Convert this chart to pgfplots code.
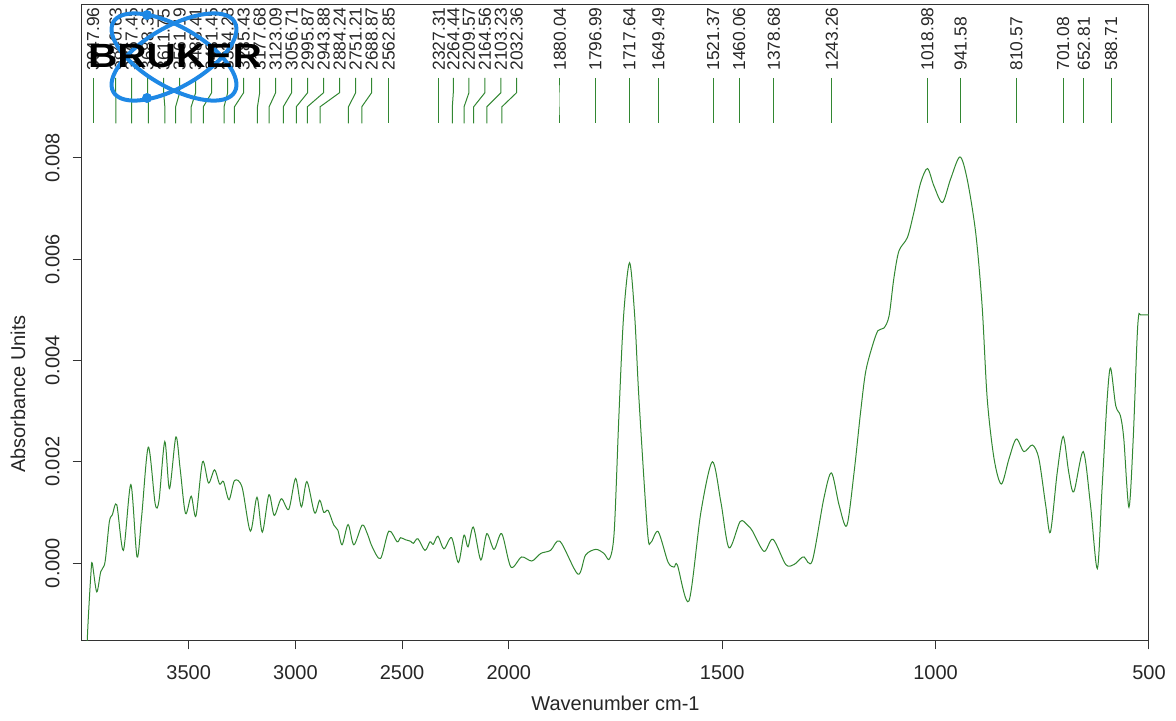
\documentclass[border=0pt]{standalone}
\usepackage{pgfplots}
\pgfplotsset{compat=1.18}
\usepackage{fontspec}
\setmainfont{Liberation Sans}
\definecolor{specgreen}{RGB}{50,135,50}
\definecolor{brukerblue}{RGB}{30,136,229}
\newcommand\ticfont{\fontsize{10}{12}\selectfont}
\newcommand\peakfont{\fontsize{8.7}{10}\selectfont}
\begin{document}
\begin{tikzpicture}
\useasboundingbox (-41pt,-40pt) rectangle (547pt,320pt);
\begin{axis}[
  at={(0pt,0pt)}, anchor=south west,
  scale only axis, width=533.5pt, height=317.5pt,
  xmin=500, xmax=4000, ymin=-0.00152, ymax=0.01102,
  x dir=reverse,
  x coord trafo/.code={\pgfmathparse{#1>2000 ? 2000+(#1-2000)/2 : #1}},
  x coord inv trafo/.code={\pgfmathparse{#1>2000 ? 2000+(#1-2000)*2 : #1}},
  axis line style={black!80, line width=0.5pt},
  tick style={black!80, line width=0.5pt},
  tick align=outside, major tick length=4.65pt,
  xtick pos=left, ytick pos=left,
  xtick={500,1000,1500,2000,2500,3000,3500},
  xticklabels={500,1000,1500,2000,2500,3000,3500},
  ytick={0,0.002,0.004,0.006,0.008},
  yticklabels={0.000,0.002,0.004,0.006,0.008},
  scaled y ticks=false, scaled x ticks=false,
  xticklabel shift=4.5pt, yticklabel shift=3pt,
  xticklabel style={font=\ticfont, text=black!85},
  yticklabel style={font=\ticfont, text=black!85, rotate=90, anchor=south},
  clip=true,
]
\addplot[specgreen, line width=0.5pt, smooth, tension=0.5] coordinates {
(3990,-0.0030) (3975,-0.00149) (3968,-0.0009) (3958,-0.0002) (3952,0.0000)
(3931,-0.00057) (3912,-0.00017) (3892,0.00002) (3872,0.00081) (3858,0.00095)
(3837,0.00115) (3806,0.00025) (3771,0.00155) (3742,0.00012) (3720,0.00094)
(3689,0.00229) (3657,0.00117) (3639,0.00124) (3612,0.00240) (3590,0.00147)
(3560,0.00249) (3540,0.00186) (3515,0.00098) (3488,0.00132) (3466,0.00093)
(3435,0.00200) (3407,0.00158) (3379,0.00184) (3355,0.00156) (3337,0.00161)
(3311,0.00125) (3285,0.00163) (3250,0.00150) (3211,0.00063) (3180,0.00130)
(3155,0.00061) (3124,0.00135) (3099,0.00094) (3066,0.00127) (3031,0.00106)
(2999,0.00167) (2972,0.00111) (2946,0.00161) (2910,0.00099) (2886,0.00124)
(2867,0.00100) (2847,0.00104) (2820,0.00075) (2801,0.00065) (2781,0.00036)
(2753,0.00076) (2726,0.00036) (2687,0.00075) (2663,0.00058) (2640,0.00032)
(2601,0.00009) (2562,0.00063) (2523,0.00042) (2507,0.00050) (2484,0.00046)
(2460,0.00043) (2447,0.00039) (2426,0.00048) (2393,0.00025) (2369,0.00042)
(2354,0.00037) (2332,0.00053) (2304,0.00028) (2268,0.00050) (2236,0.00001)
(2210,0.00055) (2191,0.00032) (2166,0.00071) (2131,0.00006) (2103,0.00058)
(2069,0.00027) (2033,0.00058) (1995,-0.00008) (1970,0.00012) (1946,0.00004)
(1925,0.00019) (1902,0.00025) (1880,0.00043) (1838,-0.00022) (1820,0.00016)
(1796,0.00027) (1777,0.00019) (1764,0.00008) (1753,0.00062) (1742,0.00291)
(1731,0.00488) (1717,0.00593) (1705,0.00488) (1695,0.00324) (1675,0.00062)
(1667,0.00041) (1650,0.00062) (1627,0.00002) (1613,-0.00008) (1605,-0.00004)
(1578,-0.00075) (1550,0.00100) (1523,0.00200) (1503,0.00120) (1484,0.00030)
(1458,0.00082) (1441,0.00075) (1429,0.00063) (1402,0.00023) (1381,0.00047)
(1351,-0.00003) (1332,-0.00003) (1316,0.00009) (1308,0.00012) (1289,0.00004)
(1262,0.00127) (1244,0.00178) (1226,0.00114) (1208,0.00074) (1191,0.00179)
(1176,0.00296) (1164,0.00377) (1148,0.00429) (1135,0.00459) (1121,0.00464)
(1109,0.00488) (1098,0.00561) (1086,0.00616) (1066,0.00643) (1051,0.00692)
(1035,0.00751) (1019,0.00779) (1004,0.00745) (984,0.00712) (965,0.00758)
(943,0.00802) (926,0.00758) (906,0.00652) (891,0.00508) (879,0.00324)
(863,0.00206) (846,0.00156) (828,0.00206) (811,0.00245) (793,0.00220)
(773,0.00233) (758,0.00206) (742,0.00114) (731,0.00061) (715,0.00179)
(701,0.00250) (688,0.00179) (676,0.00141) (654,0.00220) (637,0.00114)
(621,-0.00011) (610,0.00147) (598,0.00324) (590,0.00385) (578,0.00311)
(567,0.00291) (559,0.00245) (547,0.00110) (537,0.00245) (528,0.00442)
(524,0.00490) (520,0.00490) (500,0.00490)
};
\foreach \p/\l/\t in {
3947.96/3947.96/3947.96, 3840.63/3842.1/3840.63, 3767.45/3767.1/3767.45,
3688.35/3692.1/3688.35, 3611.75/3617.2/3611.75, 3561.19/3542.2/3561.19,
3488.41/3467.2/3488.41, 3431.45/3392.2/3431.45, 3334.28/3317.2/3334.28,
3285.43/3242.3/3285.43, 3177.68/3167.3/3177.68, 3123.09/3092.3/3123.09,
3056.71/3017.3/3056.71, 2995.87/2942.3/2995.87, 2943.88/2867.4/2943.88,
2884.24/2792.4/2884.24, 2751.21/2717.4/2751.21, 2688.87/2642.4/2688.87,
2562.85/2562.85/2562.85, 2327.31/2327.31/2327.31, 2264.44/2260.0/2264.44,
2209.57/2186.6/2209.57, 2164.56/2111.6/2164.56, 2103.23/2036.6/2103.23,
2032.36/1981.5/2032.36, 1880.04/1880.04/1880.04, 1796.99/1796.99/1796.99,
1717.64/1717.64/1717.64, 1649.49/1649.49/1649.49, 1521.37/1521.37/1521.37,
1460.06/1460.06/1460.06, 1378.68/1378.68/1378.68, 1243.26/1243.26/1243.26,
1018.98/1018.98/1018.98, 941.58/941.58/941.58, 810.57/810.57/810.57,
701.08/701.08/701.08, 652.81/652.81/652.81, 588.71/588.71/588.71}{
  \edef\temp{\noexpand\draw[specgreen, line width=0.5pt] (axis cs:\l,0.00958) -- (axis cs:\l,0.00929) -- (axis cs:\p,0.00901) -- (axis cs:\p,0.00868);
  \noexpand\node[rotate=90, anchor=west, inner sep=0pt, font=\noexpand\peakfont, text=black!85] at (axis cs:\l,0.00972) {\t};}
  \temp
}
\end{axis}
% axis titles
\node[font=\fontsize{10}{12}\selectfont, text=black!85] at (266.75pt,-31.5pt) {Wavenumber cm-1};
\node[font=\fontsize{10}{12}\selectfont, text=black!85, rotate=90] at (-32pt,123pt) {Absorbance Units};
% logo
\draw[brukerblue, line width=2pt, rotate around={30:(46pt,291.5pt)}] (46pt,291.5pt) ellipse (35pt and 15pt);
\draw[brukerblue, line width=2pt, rotate around={-30:(46pt,291.5pt)}] (46pt,291.5pt) ellipse (35pt and 15pt);
\fill[brukerblue] (32.5pt,312.5pt) circle (2.5pt);
\fill[brukerblue] (32.5pt,271pt) circle (2.5pt);
\node[font=\fontsize{16.8}{18}\selectfont\bfseries, xscale=1.21, inner sep=0pt] at (46.5pt,292pt) {BRUKER};
\end{tikzpicture}
\end{document}
